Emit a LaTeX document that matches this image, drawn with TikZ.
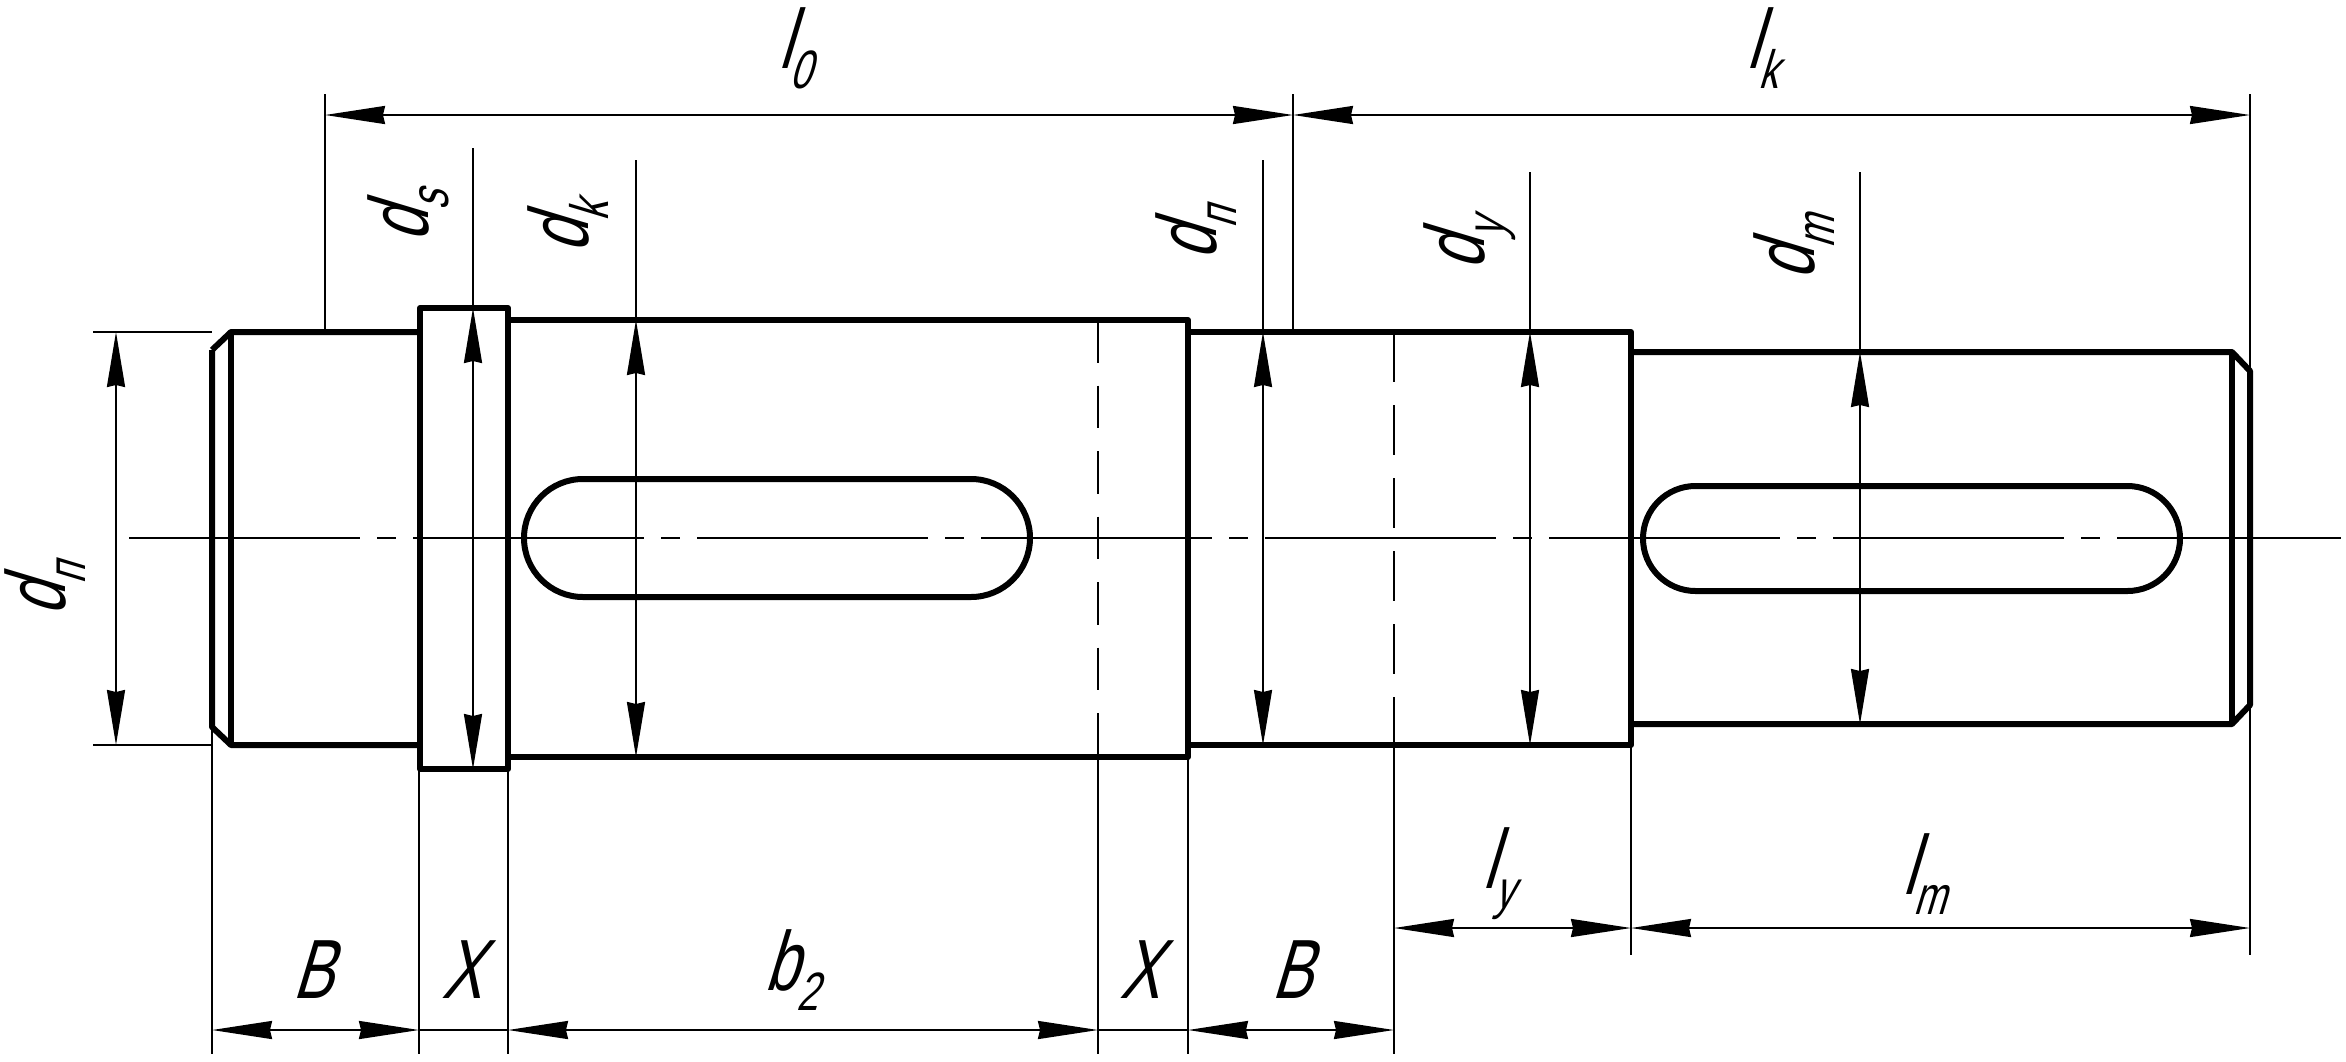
\documentclass[tikz,border=0pt]{standalone}
\usepackage{fontspec}
\setmainfont[FakeStretch=0.72,FakeSlant=0.3]{Liberation Sans}
\usetikzlibrary{arrows.meta}
\newcommand{\dimsub}[2]{#1\kern-1pt\raisebox{-10pt}{\fontsize{27pt}{27pt}\selectfont #2}}
\tikzset{
  contour/.style={line width=3pt,line join=round},
  thinline/.style={line width=1pt},
  dimline/.style={line width=1pt,{Stealth[length=30pt,width=9pt,inset=1pt]}-{Stealth[length=30pt,width=9pt,inset=1pt]}},
  diamline/.style={line width=1pt,{Stealth[length=27.5pt,width=9pt,inset=1pt]}-{Stealth[length=27.5pt,width=9pt,inset=1pt]}},
  axisline/.style={line width=1pt,dash pattern=on 115.5pt off 8.5pt on 9.5pt off 8.5pt},
  hiddenone/.style={line width=1pt,dash pattern=on 21.25pt off 11.5pt},
  hiddentwo/.style={line width=1pt,dash pattern=on 25pt off 11.5pt},
  dimtext/.style={font=\fontsize{42pt}{42pt}\selectfont,inner sep=0pt},
  sidetext/.style={dimtext,rotate=90}
}
\begin{document}
\begin{tikzpicture}[x=0.5pt,y=-0.5pt]
    \useasboundingbox (0,0) rectangle (2346,1061);
    % contour of the shaft
    \draw[contour] (212,350) -- (231,332) -- (420,332);
    \draw[contour] (212,350) -- (212,727) -- (231,745) -- (420,745);
    \draw[contour] (231,332) -- (231,745);
    \draw[contour] (420,308) rectangle (508,769);
    \draw[contour] (508,320) -- (1188,320) -- (1188,757) -- (508,757);
    \draw[contour] (1188,332) -- (1631,332) -- (1631,745) -- (1188,745);
    \draw[contour] (1631,352) -- (2232,352) -- (2250,371) -- (2250,705) -- (2232,724) -- (1631,724);
    \draw[contour] (2232,352) -- (2232,724);
    % keyways
    \draw[contour] (583,479) -- (971,479) arc (-90:90:59) -- (583,597) arc (90:270:59) -- cycle;
    \draw[contour] (1695.5,486) -- (2127.5,486) arc (-90:90:52.5) -- (1695.5,591) arc (90:270:52.5) -- cycle;
    % axis and hidden lines
    \draw[axisline] (129,538) -- (2341,538);
    \draw[hiddenone] (1098,320) -- (1098,757);
    \draw[hiddentwo] (1394,332) -- (1394,745);
    % extension lines
    \draw[thinline] (93,332) -- (212,332);
    \draw[thinline] (93,745) -- (212,745);
    \draw[thinline] (325,94) -- (325,332);
    \draw[thinline] (1293,94) -- (1293,332);
    \draw[thinline] (2250,94) -- (2250,371);
    \draw[thinline] (2250,705) -- (2250,955);
    \draw[thinline] (1631,745) -- (1631,955);
    \draw[thinline] (212,727) -- (212,1054);
    \draw[thinline] (419,769) -- (419,1054);
    \draw[thinline] (508,769) -- (508,1054);
    \draw[thinline] (1098,757) -- (1098,1054);
    \draw[thinline] (1188,757) -- (1188,1054);
    \draw[thinline] (1394,745) -- (1394,1054);
    % top dimensions
    \draw[dimline] (325,115) -- (1293,115);
    \draw[dimline] (1293,115) -- (2250,115);
    % diameters
    \draw[diamline] (116,332) -- (116,745);
    \draw[diamline] (473,308) -- (473,769); \draw[thinline] (473,148) -- (473,308);
    \draw[diamline] (636,320) -- (636,757); \draw[thinline] (636,160) -- (636,320);
    \draw[diamline] (1263,332) -- (1263,745); \draw[thinline] (1263,160) -- (1263,332);
    \draw[diamline] (1530,332) -- (1530,745); \draw[thinline] (1530,172) -- (1530,332);
    \draw[diamline] (1860,352) -- (1860,724); \draw[thinline] (1860,172) -- (1860,352);
    % bottom dimensions
    \draw[dimline] (212,1030) -- (419,1030);
    \draw[thinline] (419,1030) -- (508,1030);
    \draw[dimline] (508,1030) -- (1098,1030);
    \draw[thinline] (1098,1030) -- (1188,1030);
    \draw[dimline] (1188,1030) -- (1394,1030);
    \draw[dimline] (1394,928) -- (1631,928);
    \draw[dimline] (1631,928) -- (2250,928);
    % labels
    \node[dimtext] (lo) at (795,48) {\dimsub{l}{0}};
    \node[dimtext] (lk) at (1762,48) {\dimsub{l}{k}};
    \node[sidetext] (dnleft) at (45,590) {\dimsub{d}{п}};
    \node[sidetext] (ds) at (408,217) {\dimsub{d}{s}};
    \node[sidetext] (dk) at (568,228) {\dimsub{d}{k}};
    \node[sidetext] (dnmid) at (1196,234) {\dimsub{d}{п}};
    \node[sidetext] (dy) at (1470,245) {\dimsub{d}{y}};
    \node[sidetext] (dm) at (1794,248) {\dimsub{d}{m}};
    \node[dimtext] (bleft) at (313,970) {B};
    \node[dimtext] (xleft) at (462,970) {X};
    \node[dimtext] (btwo) at (791,970) {\dimsub{b}{2}};
    \node[dimtext] (xright) at (1140,970) {X};
    \node[dimtext] (bright) at (1292,970) {B};
    \node[dimtext] (ly) at (1498,874) {\dimsub{l}{y}};
    \node[dimtext] (lm) at (1924,874) {\dimsub{l}{m}};
\end{tikzpicture}
\end{document}
